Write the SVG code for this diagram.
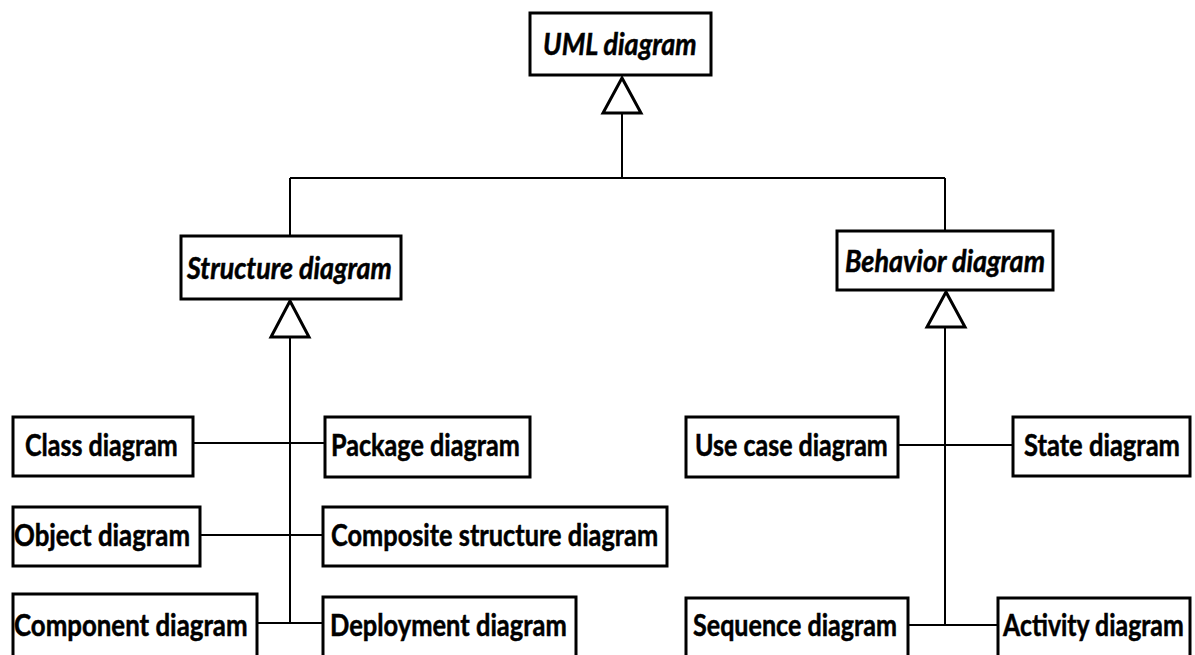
<svg xmlns="http://www.w3.org/2000/svg" width="1195" height="655" viewBox="0 0 1195 655">
<style>
.box{fill:#fff;stroke:#000;stroke-width:3}
.t{font-family:Lato,"Liberation Sans",sans-serif;font-weight:bold;font-size:30px;fill:#000;stroke:#000;stroke-width:0.5}
.i{font-style:italic}
.ln{stroke:#000;stroke-width:2;fill:none}
.tri{fill:#fff;stroke:#000;stroke-width:3;stroke-linejoin:miter}
</style>
<rect width="1195" height="655" fill="#fff"/>
<g id="connectors">
<path class="ln" d="M622 113 V178 M290 178 H945 M290 178 V236 M945 178 V231 M290 337 V623 M945 327 V625"/>
<path class="ln" d="M194 443 H324 M200 535 H322 M257 623 H322 M898 445 H1012 M908 625 H997"/>
<polygon class="tri" points="622,78 603,113 641,113"/>
<polygon class="tri" points="290,301 271,337 309,337"/>
<polygon class="tri" points="946,292 927,327 965,327"/>
</g>
<g id="uml"><rect class="box" x="530" y="13" width="181" height="62"/><text class="t i" transform="translate(543,55) scale(0.8,1)" textLength="192" lengthAdjust="spacingAndGlyphs">UML diagram</text></g>
<g id="structure"><rect class="box" x="181" y="236" width="220" height="63"/><text class="t i" transform="translate(187,279) scale(0.8,1)" textLength="256" lengthAdjust="spacingAndGlyphs">Structure diagram</text></g>
<g id="behavior"><rect class="box" x="837" y="231" width="216" height="59"/><text class="t i" transform="translate(845,272) scale(0.8,1)" textLength="250" lengthAdjust="spacingAndGlyphs">Behavior diagram</text></g>
<g id="class"><rect class="box" x="13" y="417" width="180" height="59"/><text class="t" transform="translate(25,456) scale(0.8,1)" textLength="191" lengthAdjust="spacingAndGlyphs">Class diagram</text></g>
<g id="package"><rect class="box" x="325" y="417" width="205" height="60"/><text class="t" transform="translate(331,456) scale(0.8,1)" textLength="236" lengthAdjust="spacingAndGlyphs">Package diagram</text></g>
<g id="object"><rect class="box" x="13" y="507" width="187" height="59"/><text class="t" transform="translate(14,546) scale(0.8,1)" textLength="220" lengthAdjust="spacingAndGlyphs">Object diagram</text></g>
<g id="composite"><rect class="box" x="323" y="507" width="344" height="59"/><text class="t" transform="translate(331,546) scale(0.8,1)" textLength="409" lengthAdjust="spacingAndGlyphs">Composite structure diagram</text></g>
<g id="component"><rect class="box" x="13" y="594" width="244" height="70"/><text class="t" transform="translate(14,636) scale(0.8,1)" textLength="292" lengthAdjust="spacingAndGlyphs">Component diagram</text></g>
<g id="deployment"><rect class="box" x="323" y="597" width="253" height="70"/><text class="t" transform="translate(330,636) scale(0.8,1)" textLength="296" lengthAdjust="spacingAndGlyphs">Deployment diagram</text></g>
<g id="usecase"><rect class="box" x="686" y="417" width="212" height="60"/><text class="t" transform="translate(695,456) scale(0.8,1)" textLength="241" lengthAdjust="spacingAndGlyphs">Use case diagram</text></g>
<g id="state"><rect class="box" x="1013" y="417" width="177" height="59"/><text class="t" transform="translate(1024,456) scale(0.8,1)" textLength="195" lengthAdjust="spacingAndGlyphs">State  diagram</text></g>
<g id="sequence"><rect class="box" x="686" y="598" width="222" height="70"/><text class="t" transform="translate(693,636) scale(0.8,1)" textLength="255" lengthAdjust="spacingAndGlyphs">Sequence diagram</text></g>
<g id="activity"><rect class="box" x="998" y="598" width="192" height="70"/><text class="t" transform="translate(1003,636) scale(0.8,1)" textLength="226" lengthAdjust="spacingAndGlyphs">Activity diagram</text></g>
</svg>
